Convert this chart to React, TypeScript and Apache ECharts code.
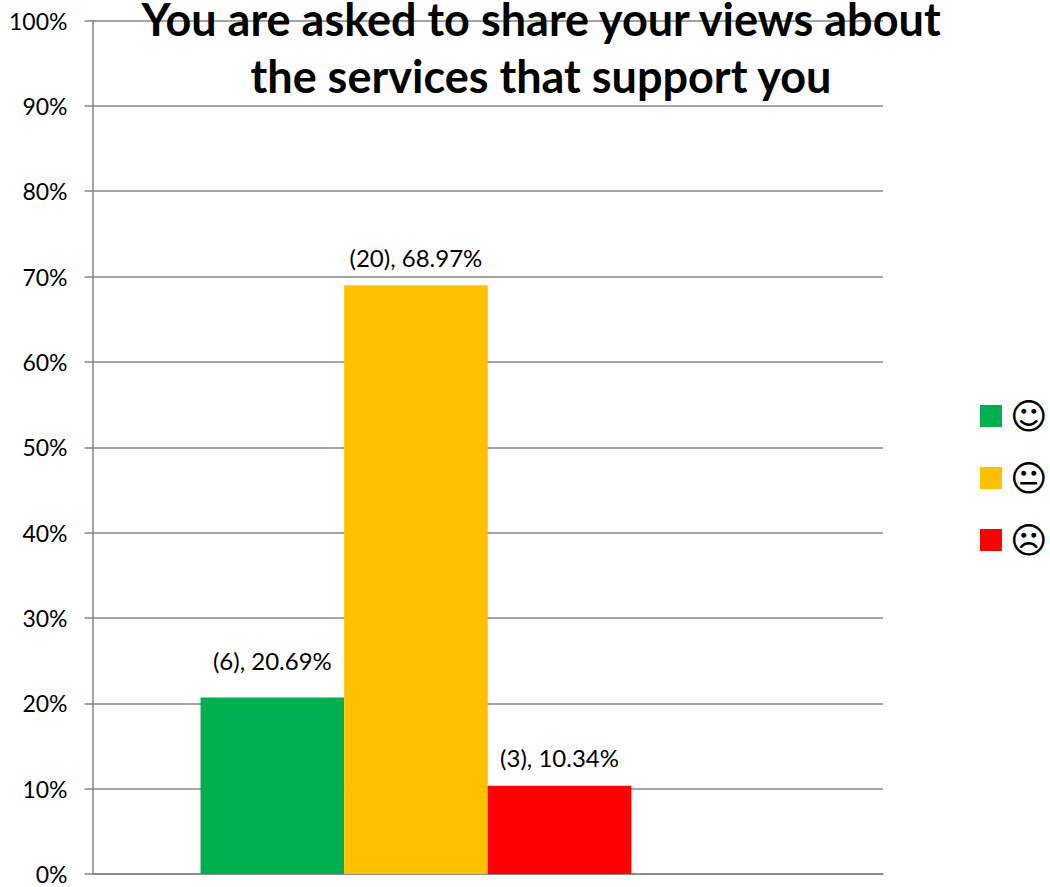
import React, { useEffect, useRef } from "react";
import * as echarts from "echarts";

const titleLines = ["You are asked to share your views about", "the services that support you"];
const categories = [""];
const seriesNames = ["☺", "😐", "☹"];
const seriesColors = ["#00B050", "#FFC000", "#FF0000"];
const smileyValues = [20.69];
const neutralValues = [68.97];
const sadValues = [10.34];
const counts = [6, 20, 3];
const emptyValues: (number | null)[] = [null];
const yTicks = [0, 10, 20, 30, 40, 50, 60, 70, 80, 90, 100];
const labelGaps = [25, 16, 16];
const titleTops = [0, 57];

export default function App() {
  const ref = useRef<HTMLDivElement>(null);
  useEffect(() => {
    if (!ref.current) return;
    const chart = echarts.init(ref.current, undefined, { renderer: "svg" });
    const values = [smileyValues, neutralValues, sadValues];
    const font = "Lato, Carlito, sans-serif";
    chart.setOption({
      animation: false,
      backgroundColor: "#fff",
      title: titleLines.map((text, i) => ({
        text,
        left: 541,
        top: titleTops[i],
        padding: 0,
        textAlign: "center",
        textStyle: { fontFamily: font, fontSize: 45, fontWeight: "bold", color: "#000", lineHeight: 38 },
      })),
      grid: { left: 92.5, right: 167, top: 20.5, bottom: 13 },
      legend: {
        left: 975,
        top: 393,
        orient: "vertical",
        data: seriesNames,
        icon: "rect",
        itemWidth: 22,
        itemHeight: 22,
        itemGap: 26,
        itemStyle: { borderWidth: 0 },
        selectedMode: false,
        textStyle: { fontFamily: "DejaVu Sans", fontSize: 36, color: "#000", padding: [0, 0, 0, 3] },
      },
      xAxis: {
        type: "category",
        data: categories,
        axisLine: { lineStyle: { color: "#868686", width: 1.5 } },
        axisTick: { show: false },
        axisLabel: { show: false },
      },
      yAxis: {
        type: "value",
        min: yTicks[0],
        max: yTicks[yTicks.length - 1],
        interval: 10,
        axisLine: { show: true, lineStyle: { color: "#868686", width: 1.5 } },
        axisTick: { show: true, length: 8, lineStyle: { color: "#868686", width: 1.5 } },
        axisLabel: {
          formatter: "{value}%",
          fontFamily: font,
          fontSize: 23,
          color: "#000",
          margin: 25,
          padding: [0, 0, 2, 0],
        },
        splitLine: { show: true, lineStyle: { color: "#868686", width: 1.5 } },
      },
      series: [
        ...seriesNames.map((name, i) => ({
          name,
          type: "bar",
          data: values[i],
          barWidth: 143.6,
          barGap: 0,
          itemStyle: { color: seriesColors[i] },
          label: {
            show: true,
            position: "top",
            distance: labelGaps[i],
            fontFamily: font,
            fontSize: 24,
            color: "#000",
            formatter: (p: any) => `(${counts[i]}), ${Number(p.value).toFixed(2)}%`,
          },
        })),
        { name: "", type: "bar", data: emptyValues, barWidth: 143.6, barGap: 0 },
      ],
    });
    return () => chart.dispose();
  }, []);
  return <div ref={ref} style={{ position: "absolute", left: 0, top: 0, width: 1050, height: 887 }} />;
}
